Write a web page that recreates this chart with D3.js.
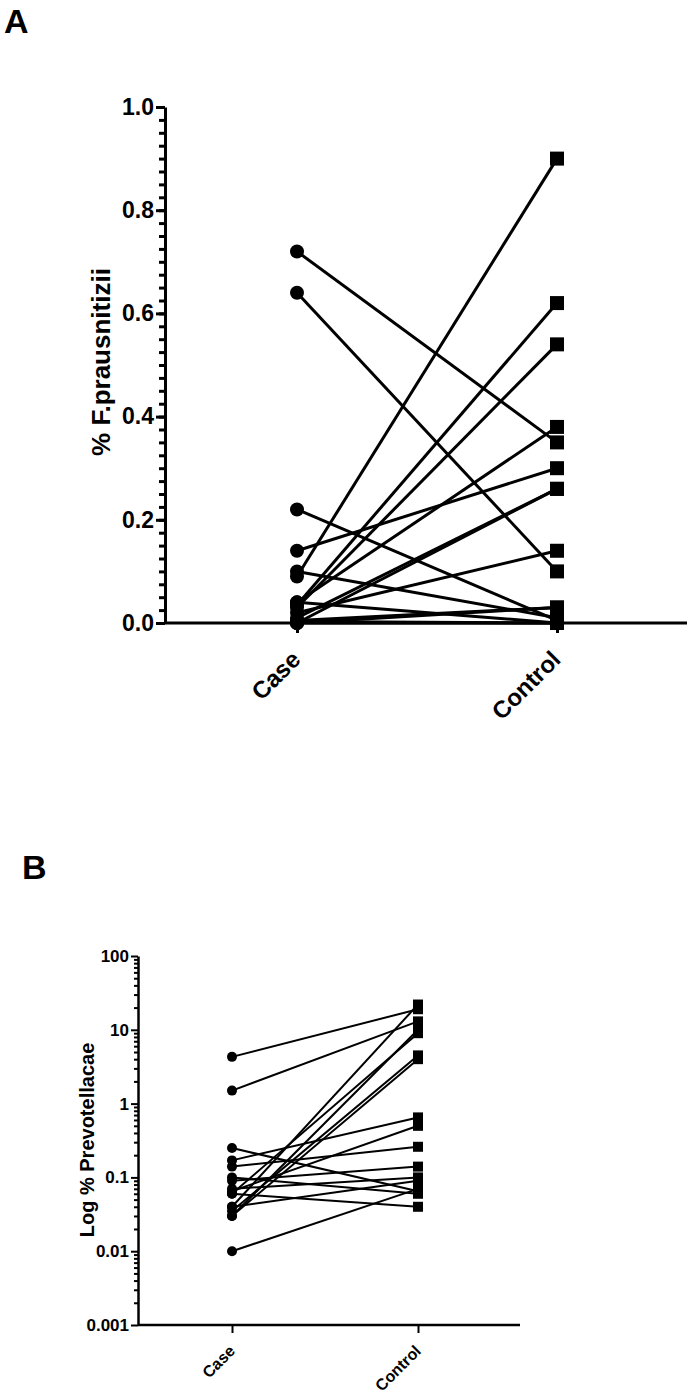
<!DOCTYPE html>
<html><head><meta charset="utf-8">
<script src="https://cdn.jsdelivr.net/npm/d3@7/dist/d3.min.js"></script>
<style>
html,body{margin:0;padding:0;background:#fff;}
svg text{font-family:"Liberation Sans",Arial,sans-serif;font-weight:bold;fill:#000;}
</style></head>
<body>
<svg id="chart" width="692" height="1400"></svg>
<script>
// ---------- DATA ----------
const groups = ["Case", "Control"];

// Panel A: % F.prausnitizii, paired (case[i] -> control[i])
const caseA    = [0.72, 0.64, 0.22, 0.14, 0.10, 0.09, 0.04, 0.035, 0.03, 0.02, 0.01, 0.0, 0.005, 0.003, 0.0, 0.04, 0.0];
const controlA = [0.35, 0.10, 0.005, 0.30, 0.01, 0.90, 0.38, 0.62, 0.54, 0.14, 0.26, 0.26, 0.03, 0.0, 0.0, 0.0, 0.03];
const ticksA = [0, 0.2, 0.4, 0.6, 0.8, 1.0];

// Panel B: Log % Prevotellacae, paired
const caseB    = [4.3, 1.5, 0.25, 0.17, 0.14, 0.10, 0.09, 0.07, 0.065, 0.06, 0.06, 0.04, 0.04, 0.035, 0.03, 0.03, 0.01];
const controlB = [19, 13, 0.065, 0.65, 0.26, 0.06, 0.14, 0.10, 0.5, 0.04, 9, 22, 0.09, 4.5, 10, 4, 0.07];
const ticksB = [0.001, 0.01, 0.1, 1, 10, 100];
const tickLabelsB = ["0.001", "0.01", "0.1", "1", "10", "100"];

// ---------- DRAW ----------
const svg = d3.select("#chart");

function drawPanel(cfg) {
  const g = svg.append("g");
  const x = d3.scalePoint().domain(groups).range(cfg.xr);
  const y = cfg.y;

  // paired lines
  const pairs = cfg.caseV.map((c, i) => [c, cfg.ctrlV[i]]);
  g.append("g").selectAll("line").data(pairs).join("line")
    .attr("x1", x("Case")).attr("x2", x("Control"))
    .attr("y1", d => y(d[0])).attr("y2", d => y(d[1]))
    .attr("stroke", "#000").attr("stroke-width", cfg.lw);

  // case circles
  g.append("g").selectAll("circle").data(cfg.caseV).join("circle")
    .attr("cx", x("Case")).attr("cy", d => y(d)).attr("r", cfg.r).attr("fill", "#000");
  // control squares
  g.append("g").selectAll("rect").data(cfg.ctrlV).join("rect")
    .attr("x", x("Control") - cfg.sq / 2).attr("y", d => y(d) - cfg.sq / 2)
    .attr("width", cfg.sq).attr("height", cfg.sq).attr("fill", "#000");

  // y axis (minor)
  const yMinor = g.append("g").attr("transform", `translate(${cfg.axX},0)`)
    .call(d3.axisLeft(y).tickValues(cfg.minor).tickSize(cfg.minorLen).tickFormat(""));
  yMinor.select(".domain").remove();
  yMinor.selectAll("line").attr("stroke", "#000").attr("stroke-width", cfg.tw);

  // y axis (major)
  const yAx = g.append("g").attr("transform", `translate(${cfg.axX},0)`)
    .call(d3.axisLeft(y).tickValues(cfg.ticks).tickSize(cfg.majorLen).tickSizeOuter(0)
      .tickFormat((d, i) => cfg.tickFmt(d, i)));
  yAx.select(".domain").attr("stroke", "#000").attr("stroke-width", cfg.aw);
  yAx.selectAll(".tick line").attr("stroke", "#000").attr("stroke-width", cfg.tw);
  yAx.selectAll(".tick text").attr("font-size", cfg.tickFs).attr("x", -cfg.majorLen - 2)
    .attr("font-family", '"Liberation Sans",Arial,sans-serif').attr("font-weight", "bold");

  // x axis
  const xAx = g.append("g").attr("transform", `translate(0,${cfg.axY})`)
    .call(d3.axisBottom(x).tickSize(cfg.xTickLen).tickSizeOuter(0).tickFormat(""));
  xAx.select(".domain").attr("d", `M${cfg.axX},0H${cfg.xEnd}`).attr("stroke", "#000").attr("stroke-width", cfg.aw);
  xAx.selectAll(".tick line").attr("stroke", "#000").attr("stroke-width", cfg.tw);

  // x labels rotated
  g.append("g").selectAll("text").data(groups).join("text")
    .attr("transform", d => `translate(${x(d) + cfg.lblDx},${cfg.axY + cfg.lblDy}) rotate(-45)`)
    .attr("text-anchor", "end").attr("font-size", cfg.xFs).text(d => d);

  // y title
  g.append("text")
    .attr("transform", `translate(${cfg.titleX},${cfg.titleY}) rotate(-90)`)
    .attr("text-anchor", "middle").attr("font-size", cfg.titleFs).text(cfg.title);

  // panel letter
  g.append("text").attr("x", cfg.letterX).attr("y", cfg.letterY)
    .attr("font-size", 34).text(cfg.letter);
}

// Panel A
const yA = d3.scaleLinear().domain([0, 1]).range([623, 107]);
drawPanel({
  y: yA, xr: [297, 557], axX: 165, axY: 623, xEnd: 687,
  caseV: caseA, ctrlV: controlA, ticks: ticksA,
  minor: d3.range(0, 1.0001, 0.025),
  tickFmt: d => d3.format(".1f")(d),
  majorLen: 9, minorLen: 6, aw: 3, tw: 3, xTickLen: 10,
  lw: 3, r: 7, sq: 14, tickFs: 23, xFs: 24, lblDx: 5, lblDy: 38,
  title: "% F.prausnitizii", titleX: 110, titleY: 362, titleFs: 26,
  letter: "A", letterX: 4, letterY: 33
});

// Panel B
const yB = d3.scaleLog().domain([0.001, 100]).range([1325, 956]);
const minorB = [];
[0.001, 0.01, 0.1, 1, 10].forEach(dec => { for (let k = 2; k <= 9; k++) minorB.push(dec * k); });
drawPanel({
  y: yB, xr: [232, 418], axX: 138, axY: 1325, xEnd: 520,
  caseV: caseB, ctrlV: controlB, ticks: ticksB,
  minor: minorB,
  tickFmt: (d, i) => tickLabelsB[i],
  majorLen: 7, minorLen: 4, aw: 2.5, tw: 2, xTickLen: 8,
  lw: 2, r: 5, sq: 10, tickFs: 17, xFs: 16, lblDx: 4, lblDy: 27,
  title: "Log % Prevotellacae", titleX: 94, titleY: 1140, titleFs: 20,
  letter: "B", letterX: 22, letterY: 879
});
</script>
</body></html>
